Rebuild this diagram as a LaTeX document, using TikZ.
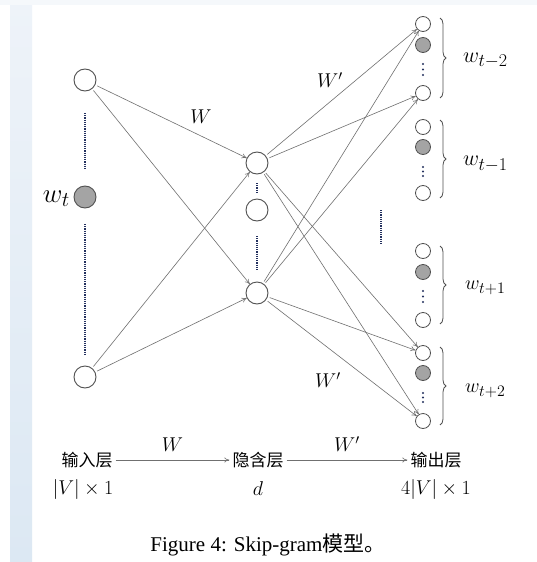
\RequirePackage{fix-cm}
\documentclass[tikz,border=0pt]{standalone}
\usepackage{fontspec}
\newfontfamily\cjk{Noto Sans CJK SC}
\newfontfamily\capfont{Liberation Serif}
\usetikzlibrary{decorations.pathreplacing,arrows.meta}
\definecolor{circline}{HTML}{505050}
\definecolor{edgegray}{HTML}{707070}
\definecolor{grayfill}{HTML}{A4A4A4}
\definecolor{dotblue}{HTML}{23305E}
\definecolor{stripa}{HTML}{EEF3F9}
\definecolor{stripb}{HTML}{DCE8F3}
\newcommand{\wlabel}[3]{\fontsize{#1}{#1}\selectfont$w_{\mbox{\fontsize{#2}{#2}\selectfont$#3$}}$}
\begin{document}
\begin{tikzpicture}[x=1pt,y=-1pt,
  bignode/.style={circle,draw=circline,line width=0.9pt,minimum size=22pt,inner sep=0pt,fill=white},
  bigfilled/.style={bignode,fill=grayfill},
  outnode/.style={circle,draw=circline,line width=0.8pt,minimum size=15pt,inner sep=0pt,fill=white},
  outfilled/.style={outnode,fill=grayfill},
  conn/.style={draw=edgegray,line width=0.6pt,-{To[length=5pt,width=5pt]},shorten <=2pt},
  dotline/.style={draw=dotblue,line width=1.8pt,dash pattern=on 1.2pt off 1pt},
  bracestyle/.style={draw=circline,line width=0.8pt,decorate,decoration={brace,amplitude=6pt}},
  mlabel/.style={font=\fontsize{20}{24}\selectfont,inner sep=0pt},
  cnlabel/.style={font=\cjk\fontsize{17}{20}\selectfont,inner sep=3pt},
]
\useasboundingbox (0,0) rectangle (537,562);
\fill[white] (0,0) rectangle (537,562);
\shade[top color=stripa,bottom color=stripb] (10,0) rectangle (32,562);
\fill[stripa!60] (0,0) rectangle (537,5);

% input layer
\node[bignode] (i1) at (85,80) {};
\node[bigfilled] (iw) at (85,197) {};
\node[bignode] (i2) at (85,377) {};
\node[anchor=east,inner sep=0pt] (wt) at (70,199) {\wlabel{27}{21}{t}};
\draw[dotline] (85,113) -- (85,170);
\draw[dotline] (85,224) -- (85,354);

% hidden layer
\node[bignode] (h1) at (257,163) {};
\node[bignode] (h2) at (257,210) {};
\node[bignode] (h3) at (257,293) {};
\draw[dotline] (257,183) -- (257,193);
\draw[dotline] (257,236) -- (257,271);

% output layer
\foreach \g/\ya/\yb/\yd in {1/24/45/93, 2/127/147/193, 3/251/272/320, 4/353/373/421}{
  \node[outnode] (o\g a) at (423,\ya) {};
  \node[outfilled] (o\g b) at (423,\yb) {};
  \node[outnode] (o\g d) at (423,\yd) {};
}
\foreach \y in {64,69.5,75, 167,171.5,176, 291,296.5,302, 393,397.5,402}{
  \fill[dotblue] (423,\y) circle (1.1pt);
}
\draw[dotline] (381,210) -- (381,245);

% braces
\draw[bracestyle] (440,18) -- (440,98);
\draw[bracestyle] (440,120) -- (440,198);
\draw[bracestyle] (440,246) -- (440,324);
\draw[bracestyle] (440,347) -- (440,425);
\node[anchor=west,inner sep=0pt] (l1) at (463,61) {\wlabel{22}{18}{t{-}2}};
\node[anchor=west,inner sep=0pt] (l2) at (463,164) {\wlabel{22}{18}{t{-}1}};
\node[anchor=west,inner sep=0pt] (l3) at (465,288) {\wlabel{20}{16}{t{+}1}};
\node[anchor=west,inner sep=0pt] (l4) at (465,391) {\wlabel{20}{16}{t{+}2}};

% input to hidden
\draw[conn] (i1) -- (h1);
\draw[conn] (i1) -- (h3);
\draw[conn] (i2) -- (h1);
\draw[conn] (i2) -- (h3);
% hidden to output
\foreach \h in {h1,h3}{
  \foreach \o in {o1a,o1d,o4a,o4d}{
    \draw[conn] (\h) -- (\o);
  }
}
\node[mlabel] (wlab) at (201,117) {$W$};
\node[mlabel] (wp1) at (330,80) {$W'$};
\node[mlabel] (wp2) at (328,380) {$W'$};

% bottom summary
\node[cnlabel] (b1) at (87,460) {输入层};
\node[cnlabel] (b2) at (258,460) {隐含层};
\node[cnlabel] (b3) at (436,460) {输出层};
\draw[draw=edgegray,line width=0.6pt,-{To[length=5pt,width=5pt]}] (b1.east) -- node[mlabel,above=8pt] (bw) {$W$} (b2.west);
\draw[draw=edgegray,line width=0.6pt,-{To[length=5pt,width=5pt]}] (b2.east) -- node[mlabel,above=8pt] (bwp) {$W'$} (b3.west);
\node[mlabel] (s1) at (83,489) {$|V|\times 1$};
\node[mlabel] (s2) at (258,489) {$d$};
\node[mlabel] (s3) at (436,489) {$4|V|\times 1$};

% caption
\node[inner sep=0pt] (cap) at (268,545) {\capfont\fontsize{21}{24}\selectfont Figure 4: Skip-gram\cjk 模型。};
\end{tikzpicture}
\end{document}
